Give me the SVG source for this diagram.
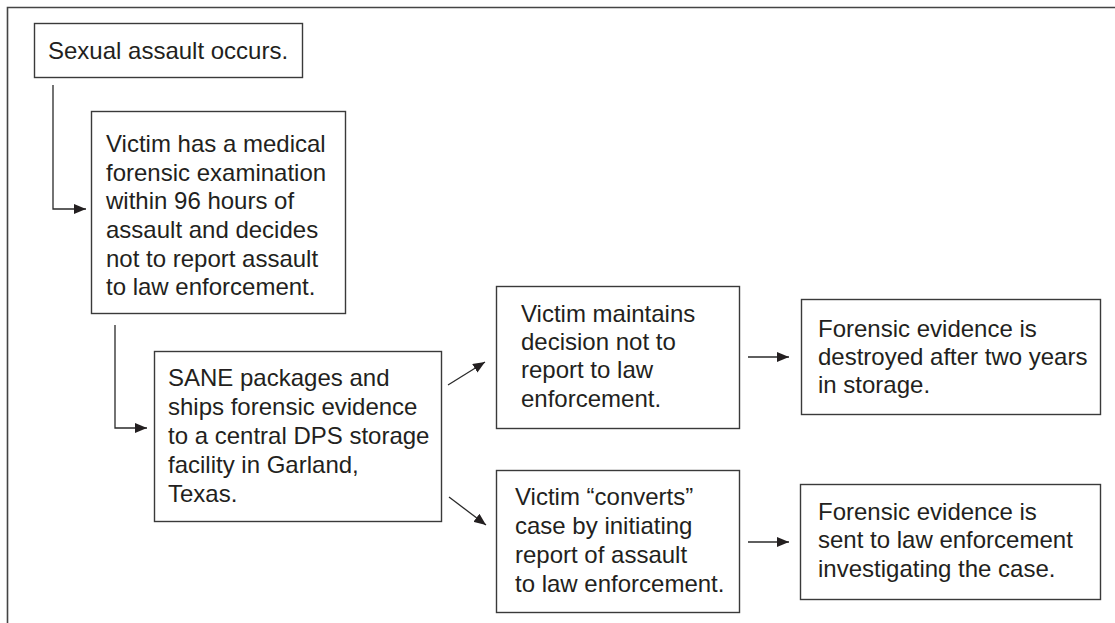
<svg xmlns="http://www.w3.org/2000/svg" width="1115" height="623" viewBox="0 0 1115 623">
<style>
.box{fill:#fff;stroke:#3a3a3a;stroke-width:1.4}
.t{font-family:"Liberation Sans",Arial,sans-serif;font-size:24px;fill:#231f20}
.c{fill:none;stroke:#2a2a2a;stroke-width:1.3}
.frame{fill:none;stroke:#444;stroke-width:1.6}
</style>
<defs>
<marker id="ah" viewBox="0 0 12 10" refX="12" refY="5" markerWidth="12" markerHeight="10" markerUnits="userSpaceOnUse" orient="auto">
<path d="M0,0 L12,5 L0,10 Z" fill="#231f20"/>
</marker>
</defs>
<rect width="1115" height="623" fill="#fff"/>
<path class="frame" d="M7.5,623 V7.5 H1115"/>
<g id="connectors">
<path class="c" d="M53,85 V209 H86" marker-end="url(#ah)"/>
<path class="c" d="M115,325 V428 H147" marker-end="url(#ah)"/>
<path class="c" d="M448,385 L485,362" marker-end="url(#ah)"/>
<path class="c" d="M449,497 L486,525" marker-end="url(#ah)"/>
<path class="c" d="M748,357 H789" marker-end="url(#ah)"/>
<path class="c" d="M748,542 H789" marker-end="url(#ah)"/>
</g>
<g id="n1">
<rect class="box" x="34.5" y="23.5" width="268" height="54"/>
<text class="t" x="48" y="59">Sexual assault occurs.</text>
</g>
<g id="n2">
<rect class="box" x="91.5" y="111.5" width="254" height="202"/>
<text class="t" x="106" y="152">Victim has a medical</text>
<text class="t" x="106" y="181">forensic examination</text>
<text class="t" x="106" y="209">within 96 hours of</text>
<text class="t" x="106" y="238">assault and decides</text>
<text class="t" x="106" y="267">not to report assault</text>
<text class="t" x="106" y="295">to law enforcement.</text>
</g>
<g id="n3">
<rect class="box" x="154.5" y="351.5" width="287" height="170"/>
<text class="t" x="168" y="386">SANE packages and</text>
<text class="t" x="168" y="415">ships forensic evidence</text>
<text class="t" x="168" y="444">to a central DPS storage</text>
<text class="t" x="168" y="473">facility in Garland,</text>
<text class="t" x="168" y="502">Texas.</text>
</g>
<g id="n4">
<rect class="box" x="496.5" y="286.5" width="243" height="142"/>
<text class="t" x="521" y="322">Victim maintains</text>
<text class="t" x="521" y="350">decision not to</text>
<text class="t" x="521" y="378">report to law</text>
<text class="t" x="521" y="407">enforcement.</text>
</g>
<g id="n5">
<rect class="box" x="496.5" y="470.5" width="243" height="142"/>
<text class="t" x="515" y="505">Victim “converts”</text>
<text class="t" x="515" y="534">case by initiating</text>
<text class="t" x="515" y="563">report of assault</text>
<text class="t" x="515" y="592">to law enforcement.</text>
</g>
<g id="n6">
<rect class="box" x="801.5" y="299.5" width="299" height="115"/>
<text class="t" x="818" y="337">Forensic evidence is</text>
<text class="t" x="818" y="365">destroyed after two years</text>
<text class="t" x="818" y="393">in storage.</text>
</g>
<g id="n7">
<rect class="box" x="800.5" y="484.5" width="300" height="115"/>
<text class="t" x="818" y="520">Forensic evidence is</text>
<text class="t" x="818" y="548">sent to law enforcement</text>
<text class="t" x="818" y="577">investigating the case.</text>
</g>
</svg>
